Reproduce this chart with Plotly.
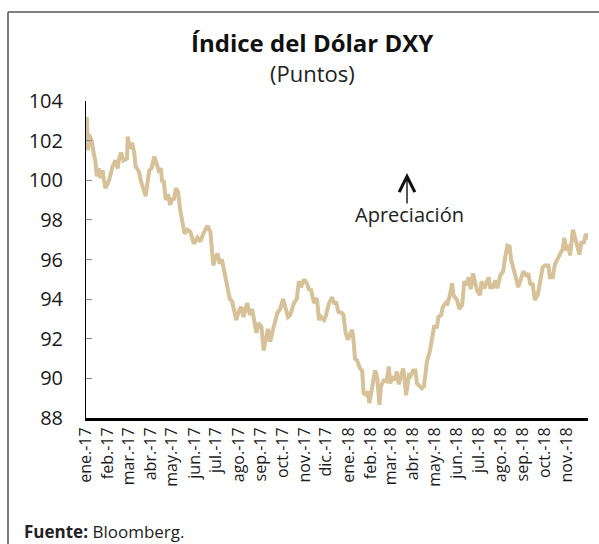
import plotly.graph_objects as go

# ---------------- data ----------------
dates = [
    "2017-01-02", "2017-01-04", "2017-01-05", "2017-01-09", "2017-01-12", "2017-01-14",
    "2017-01-16", "2017-01-19", "2017-01-21", "2017-01-24", "2017-01-26", "2017-01-28",
    "2017-02-02", "2017-02-07", "2017-02-11", "2017-02-14", "2017-02-16", "2017-02-19",
    "2017-02-22", "2017-02-27", "2017-02-28", "2017-03-03", "2017-03-06", "2017-03-09",
    "2017-03-11", "2017-03-16", "2017-03-18", "2017-03-23", "2017-03-25", "2017-03-30",
    "2017-04-02", "2017-04-06", "2017-04-09", "2017-04-12", "2017-04-15", "2017-04-17",
    "2017-04-19", "2017-04-22", "2017-04-25", "2017-04-28", "2017-05-01", "2017-05-03",
    "2017-05-06", "2017-05-09", "2017-05-12", "2017-05-15", "2017-05-18", "2017-05-22",
    "2017-05-26", "2017-05-31", "2017-06-05", "2017-06-09", "2017-06-13", "2017-06-19",
    "2017-06-23", "2017-06-27", "2017-06-30", "2017-07-03", "2017-07-06", "2017-07-09",
    "2017-07-13", "2017-07-16", "2017-07-20", "2017-07-23", "2017-07-26", "2017-07-29",
    "2017-08-02", "2017-08-05", "2017-08-08", "2017-08-11", "2017-08-13", "2017-08-17",
    "2017-08-20", "2017-08-22", "2017-08-26", "2017-08-29", "2017-09-02", "2017-09-05",
    "2017-09-08", "2017-09-11", "2017-09-14", "2017-09-17", "2017-09-19", "2017-09-24",
    "2017-09-28", "2017-10-02", "2017-10-05", "2017-10-09", "2017-10-12", "2017-10-17",
    "2017-10-21", "2017-10-24", "2017-10-27", "2017-10-31", "2017-11-04", "2017-11-07",
    "2017-11-10", "2017-11-14", "2017-11-16", "2017-11-18", "2017-11-21", "2017-11-24",
    "2017-11-28", "2017-11-30", "2017-12-05", "2017-12-09", "2017-12-12", "2017-12-15",
    "2017-12-18", "2017-12-23", "2017-12-25", "2017-12-28", "2017-12-31",
    "2018-01-03", "2018-01-06", "2018-01-08", "2018-01-10", "2018-01-13", "2018-01-17",
    "2018-01-20", "2018-01-22", "2018-01-26", "2018-01-28", "2018-01-30", "2018-02-03",
    "2018-02-07", "2018-02-10", "2018-02-13", "2018-02-15", "2018-02-19", "2018-02-23",
    "2018-02-26", "2018-02-28", "2018-03-04", "2018-03-07", "2018-03-09", "2018-03-12",
    "2018-03-15", "2018-03-18", "2018-03-20", "2018-03-22", "2018-03-26", "2018-03-28",
    "2018-04-01", "2018-04-04", "2018-04-06", "2018-04-10", "2018-04-13", "2018-04-16",
    "2018-04-18", "2018-04-20", "2018-04-24", "2018-04-27", "2018-04-30", "2018-05-04",
    "2018-05-06", "2018-05-10", "2018-05-12", "2018-05-16", "2018-05-18", "2018-05-22",
    "2018-05-25", "2018-05-27", "2018-06-01", "2018-06-04", "2018-06-08", "2018-06-11",
    "2018-06-14", "2018-06-17", "2018-06-20", "2018-06-23", "2018-06-26", "2018-06-29",
    "2018-07-03", "2018-07-05", "2018-07-09", "2018-07-12", "2018-07-15", "2018-07-17",
    "2018-07-21", "2018-07-24", "2018-07-27", "2018-07-31", "2018-08-04", "2018-08-07",
    "2018-08-10", "2018-08-13", "2018-08-15", "2018-08-18", "2018-08-22", "2018-08-25",
    "2018-08-29", "2018-09-01", "2018-09-05", "2018-09-08", "2018-09-11", "2018-09-14",
    "2018-09-17", "2018-09-21", "2018-09-24", "2018-09-28", "2018-10-01", "2018-10-06",
    "2018-10-08", "2018-10-12", "2018-10-15", "2018-10-18", "2018-10-22", "2018-10-26",
    "2018-10-28", "2018-10-31", "2018-11-03", "2018-11-05", "2018-11-09", "2018-11-12",
    "2018-11-15", "2018-11-18", "2018-11-21", "2018-11-24", "2018-11-27", "2018-11-29",
]
dxy = [
    103.2, 101.5, 102.3, 102.0, 101.3, 101.0,
    100.2, 100.6, 100.1, 100.5, 100.0, 99.6,
    100.0, 100.7, 101.0, 100.6, 101.1, 101.4,
    101.0, 101.1, 102.2, 101.6, 101.9, 101.4,
    100.7, 100.4, 100.0, 99.4, 99.2, 100.5,
    100.6, 101.2, 100.9, 100.5, 100.6, 99.9,
    100.0, 99.0, 99.3, 98.75, 99.1, 99.0,
    99.6, 99.4, 98.5, 97.85, 97.3, 97.5,
    97.4, 96.8, 97.1, 96.9, 97.3, 97.7,
    97.4, 95.7, 96.1, 96.3, 95.8, 96.0,
    95.2, 94.8, 94.0, 93.9, 93.3, 92.95,
    93.45, 93.6, 93.1, 93.45, 93.8, 93.2,
    93.5, 93.1, 92.3, 92.8, 92.6, 91.4,
    92.05, 92.5, 91.85, 92.4, 92.6, 93.3,
    93.5, 94.0, 93.6, 93.1, 93.2, 93.8,
    94.0, 94.9, 94.6, 95.0, 94.8, 94.5,
    94.45, 93.8, 93.95, 94.05, 92.95, 93.1,
    92.95, 93.1, 93.8, 94.1, 93.8, 93.8,
    93.35, 93.3, 93.2, 92.3, 91.95,
    92.2, 92.45, 91.95, 91.0, 90.9, 90.5,
    90.4, 89.25, 89.15, 89.35, 88.75, 89.6,
    90.4, 90.0, 88.66, 89.6, 89.9, 89.85,
    90.6, 89.75, 90.1, 89.9, 90.35, 89.7,
    90.2, 90.5, 90.0, 89.15, 90.15, 90.1,
    90.4, 90.4, 89.75, 89.6, 89.5, 89.6,
    90.25, 90.85, 91.35, 92.0, 92.6, 92.6,
    93.1, 93.2, 93.6, 93.8, 93.7, 94.2,
    94.8, 94.2, 93.95, 93.5, 93.7, 94.9,
    94.7, 95.1, 94.5, 95.3, 94.8, 94.4,
    94.2, 94.9, 94.55, 94.8, 95.1, 94.6,
    94.6, 94.95, 94.55, 95.2, 95.4, 96.15,
    96.7, 96.65, 96.0, 95.6, 95.1, 94.6,
    95.05, 95.4, 95.2, 95.3, 94.7, 94.8,
    93.95, 94.2, 94.8, 95.6, 95.7, 95.7,
    95.1, 95.1, 95.75, 95.95, 96.3, 96.55,
    97.1, 96.45, 96.75, 96.2, 97.5, 97.15,
    96.7, 96.25, 96.9, 96.8, 97.3, 97.0,
]

month_ticks = [
    "2017-01-01", "2017-02-01", "2017-03-01", "2017-04-01", "2017-05-01", "2017-06-01",
    "2017-07-01", "2017-08-01", "2017-09-01", "2017-10-01", "2017-11-01", "2017-12-01",
    "2018-01-01", "2018-02-01", "2018-03-01", "2018-04-01", "2018-05-01", "2018-06-01",
    "2018-07-01", "2018-08-01", "2018-09-01", "2018-10-01", "2018-11-01",
]
month_labels = [
    "ene.-17", "feb.-17", "mar.-17", "abr.-17", "may.-17", "jun.-17",
    "jul.-17", "ago.-17", "sep.-17", "oct.-17", "nov.-17", "dic.-17",
    "ene.-18", "feb.-18", "mar.-18", "abr.-18", "may.-18", "jun.-18",
    "jul.-18", "ago.-18", "sep.-18", "oct.-18", "nov.-18",
]
y_ticks = [88, 90, 92, 94, 96, 98, 100, 102, 104]
x_range = ["2017-01-01", "2018-11-30"]
y_range = [88, 104]

title_text = "<b>Índice del Dólar DXY</b>"
subtitle_text = "(Puntos)"
note_text = "Apreciación"
source_text = "<b>Fuente:</b> Bloomberg."

# ---------------- layout helpers ----------------
W, H = 599, 544
L, R, T, B = 86, 11, 101, 126
PW, PH = W - L - R, H - T - B


def px(x):
    return (x - L) / PW


def py(y):
    return (H - B - y) / PH


FONT = "Open Sans"
LINE_COLOR = "rgb(214,193,152)"

fig = go.Figure()
fig.add_trace(go.Scatter(
    x=dates, y=dxy, mode="lines",
    line=dict(color=LINE_COLOR, width=4),
    hoverinfo="skip", showlegend=False,
))

fig.update_layout(
    width=W, height=H,
    margin=dict(l=L, r=R, t=T, b=B, pad=0),
    paper_bgcolor="white", plot_bgcolor="white",
    font=dict(family=FONT, color="#1a1a1a"),
    showlegend=False,
)

fig.update_xaxes(
    type="date", range=x_range,
    tickmode="array", tickvals=month_ticks, ticktext=month_labels,
    tickangle=-90, tickfont=dict(size=16, family=FONT, color="#1a1a1a"),
    ticks="", showgrid=False, zeroline=False,
    showline=True, linecolor="black", linewidth=3,
    ticklabelstandoff=0,
)
fig.update_yaxes(
    range=y_range, tickmode="array", tickvals=y_ticks,
    ticktext=[str(v) for v in y_ticks],
    tickfont=dict(size=20, family=FONT, color="#1a1a1a"),
    ticks="inside", ticklen=6, tickcolor="#888888", tickwidth=1,
    showgrid=False, zeroline=False,
    showline=True, linecolor="black", linewidth=1,
    ticklabelstandoff=18,
)

annotations = [
    dict(text=title_text, x=px(312), y=py(42), xref="paper", yref="paper",
         xanchor="center", yanchor="middle", showarrow=False,
         font=dict(size=24, family=FONT, color="#111111")),
    dict(text=subtitle_text, x=px(312), y=py(73), xref="paper", yref="paper",
         xanchor="center", yanchor="middle", showarrow=False,
         font=dict(size=22, family=FONT, color="#222222")),
    dict(text=note_text, x=px(409), y=py(214), xref="paper", yref="paper",
         xanchor="center", yanchor="middle", showarrow=False,
         font=dict(size=20, family=FONT, color="#222222")),
    dict(text="", x=px(407), y=py(173), xref="paper", yref="paper",
         ax=0, ay=32, axref="pixel", ayref="pixel",
         showarrow=True, arrowhead=5, arrowsize=2.2, arrowwidth=1.4,
         arrowcolor="#111111"),
    dict(text=source_text, x=px(22), y=py(531), xref="paper", yref="paper",
         xanchor="left", yanchor="middle", showarrow=False,
         font=dict(size=17, family=FONT, color="#222222")),
]
fig.update_layout(annotations=annotations)

frame_color = "#555555"
fig.update_layout(shapes=[
    dict(type="line", xref="paper", yref="paper",
         x0=px(8), y0=py(12), x1=px(8), y1=py(560),
         line=dict(color=frame_color, width=1.5)),
    dict(type="line", xref="paper", yref="paper",
         x0=px(8), y0=py(12), x1=px(620), y1=py(12),
         line=dict(color=frame_color, width=1.5)),
])

fig.write_html(
    "out.html",
    config={"displayModeBar": False},
    post_script="document.body.style.margin='0px';document.body.style.overflow='hidden';",
)
